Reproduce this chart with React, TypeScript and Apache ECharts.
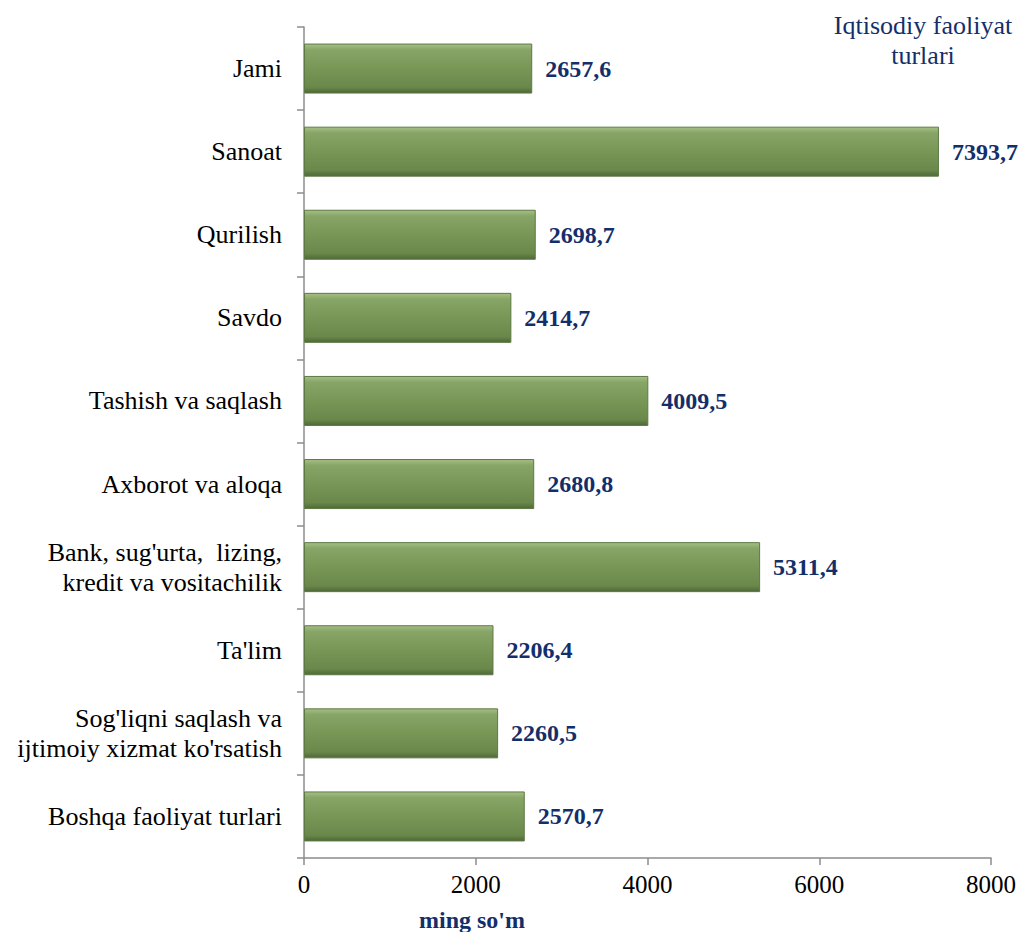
import React, { useEffect, useRef } from "react";
import * as echarts from "echarts";

const categories = [
  "Jami",
  "Sanoat",
  "Qurilish",
  "Savdo",
  "Tashish va saqlash",
  "Axborot va aloqa",
  "Bank, sug'urta,  lizing,\nkredit va vositachilik",
  "Ta'lim",
  "Sog'liqni saqlash va\nijtimoiy xizmat ko'rsatish",
  "Boshqa faoliyat turlari",
];
const values = [2657.6, 7393.7, 2698.7, 2414.7, 4009.5, 2680.8, 5311.4, 2206.4, 2260.5, 2570.7];
const xTicks = [0, 2000, 4000, 6000, 8000];
const unitLabel = "ming so'm";
const cornerTitle = "Iqtisodiy faoliyat\nturlari";

const FONT = "'Liberation Serif', 'Times New Roman', serif";
const NAVY = "#132f6b";

export default function App() {
  const ref = useRef<HTMLDivElement>(null);
  useEffect(() => {
    if (!ref.current) return;
    const chart = echarts.init(ref.current, undefined, { renderer: "svg" });
    chart.setOption({
      animation: false,
      backgroundColor: "#ffffff",
      grid: { left: 296, right: 27, top: 19, bottom: 74, containLabel: false },
      xAxis: {
        type: "value",
        min: xTicks[0],
        max: xTicks[xTicks.length - 1],
        interval: 2000,
        splitLine: { show: false },
        axisLine: { show: true, lineStyle: { color: "#8c8c8c", width: 1.5 } },
        axisTick: { show: true, length: 7, lineStyle: { color: "#8c8c8c", width: 1.5 } },
        axisLabel: {
          fontFamily: FONT,
          fontSize: 25,
          color: "#000",
          margin: 14,
          formatter: (v: number) => String(v),
        },
      },
      yAxis: {
        type: "category",
        data: categories,
        inverse: true,
        axisLine: { show: true, lineStyle: { color: "#8c8c8c", width: 1.5 } },
        axisTick: { show: true, length: 7, lineStyle: { color: "#8c8c8c", width: 1.5 } },
        axisLabel: {
          fontFamily: FONT,
          fontSize: 26,
          color: "#000",
          margin: 22,
          align: "right",
          lineHeight: 30,
        },
      },
      series: [
        {
          type: "bar",
          data: values,
          barWidth: 50,
          itemStyle: {
            color: new echarts.graphic.LinearGradient(0, 0, 0, 1, [
              { offset: 0, color: "#a6bf86" },
              { offset: 0.12, color: "#87a566" },
              { offset: 0.5, color: "#789656" },
              { offset: 0.88, color: "#6a884a" },
              { offset: 1, color: "#4f6838" },
            ]),
            borderColor: "#5d7844",
            borderWidth: 1,
          },
          label: {
            show: true,
            position: "right",
            distance: 13,
            fontFamily: FONT,
            fontSize: 24,
            fontWeight: "bold",
            color: NAVY,
            formatter: (p: any) => p.value.toFixed(1).replace(".", ","),
          },
        },
      ],
      graphic: [
        {
          type: "text",
          x: 915,
          y: 2,
          style: {
            text: cornerTitle,
            fontFamily: FONT,
            fontSize: 26,
            fill: NAVY,
            align: "center",
            verticalAlign: "top",
            lineHeight: 30,
          },
        },
        {
          type: "text",
          x: 464,
          y: 900,
          style: {
            text: unitLabel,
            fontFamily: FONT,
            fontSize: 24,
            fontWeight: "bold",
            fill: NAVY,
            align: "center",
            verticalAlign: "top",
          },
        },
      ],
    });
    return () => chart.dispose();
  }, []);
  return <div ref={ref} style={{ width: 1011, height: 924 }} />;
}
